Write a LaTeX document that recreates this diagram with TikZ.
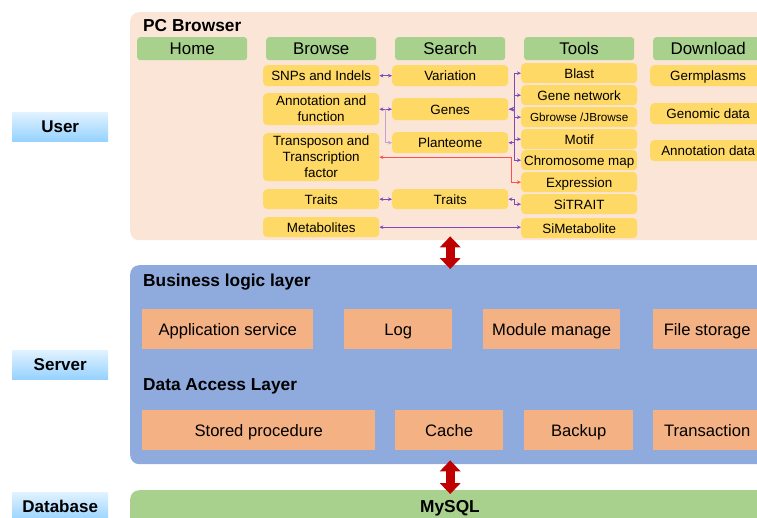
\documentclass[tikz,border=0pt]{standalone}
\usepackage{fontspec}
\setmainfont{Liberation Sans}
\usepackage{tikz}
\usetikzlibrary{arrows.meta}
\definecolor{peach}{RGB}{251,229,214}
\definecolor{headgreen}{RGB}{169,209,142}
\definecolor{itemyellow}{RGB}{255,217,102}
\definecolor{layerblue}{RGB}{143,170,220}
\definecolor{svcorange}{RGB}{244,177,131}
\definecolor{arrowred}{RGB}{192,0,0}
\definecolor{linkpurple}{RGB}{128,72,184}
\definecolor{linklight}{RGB}{196,160,216}
\definecolor{redlink}{RGB}{250,80,80}
\definecolor{sidetop}{RGB}{225,242,255}
\definecolor{sidebottom}{RGB}{150,210,255}

\begin{document}
\begin{tikzpicture}[x=1pt,y=-1pt,
  >={Stealth[length=4pt,width=3.6pt]},
  box/.style={anchor=north west,inner sep=0pt,align=center},
  caps/.style={text height=#1,text depth=0pt},
  panel/.style={box,rounded corners=9pt},
  head/.style={box,caps=12.2pt,fill=headgreen,rounded corners=3pt,minimum width=110pt,minimum height=23pt,font=\fontsize{16.9}{18}\selectfont},
  item/.style={box,fill=itemyellow,rounded corners=4pt,minimum width=116pt,font=\fontsize{13.4}{16}\selectfont},
  cell/.style={item,caps=9.6pt},
  svc/.style={box,caps=12pt,fill=svcorange,minimum height=40pt,font=\fontsize{16.6}{18}\selectfont},
  side/.style={box,caps=12.3pt,minimum width=96pt,minimum height=29pt,top color=sidetop,bottom color=sidebottom,font=\bfseries\fontsize{17}{18}\selectfont},
  title/.style={anchor=west,caps=12.4pt,inner sep=0pt,font=\bfseries\fontsize{17.3}{18}\selectfont},
  link/.style={draw=linkpurple,line width=0.7pt},
  lightlink/.style={draw=linklight,line width=0.9pt},
  rlink/.style={draw=redlink,line width=0.7pt},
  bigarrow/.style={draw=arrowred,line width=9pt,shorten <=-4pt,shorten >=-4pt,
    {Triangle[length=11pt,width=21pt,line width=0pt]}-{Triangle[length=11pt,width=21pt,line width=0pt]}}]
\useasboundingbox (0,0) rectangle (757,517);
\clip (0,0) rectangle (757,517);

% side labels
\node[side] (user) at (12,112) {User};
\node[side] (serverlab) at (12,350) {Server};
\node[side] (dblab) at (12,492) {Database};

% user layer
\node[panel,fill=peach,minimum width=660pt,minimum height=228pt] (browser) at (130,12) {};
\node[title] (pctitle) at (143,25) {PC Browser};
\node[head] (home) at (137,37) {Home};
\node[head] (browse) at (266,37) {Browse};
\node[head] (search) at (395,37) {Search};
\node[head] (tools) at (524,37) {Tools};
\node[head] (download) at (653,37) {Download};

\node[cell,minimum height=21pt] (snp) at (263,65) {SNPs and Indels};
\node[item,minimum height=32pt] (annot) at (263,93) {Annotation and\\function};
\node[item,minimum height=48pt] (transp) at (263,133) {Transposon and\\Transcription\\factor};
\node[cell,minimum height=20pt] (traitsb) at (263,189) {Traits};
\node[cell,minimum height=20pt] (metab) at (263,217) {Metabolites};

\node[cell,minimum height=21pt] (var) at (392,65) {Variation};
\node[cell,minimum height=22pt] (genes) at (392,98) {Genes};
\node[cell,minimum height=21pt] (plant) at (392,132) {Planteome};
\node[cell,minimum height=20pt] (traitss) at (392,189) {Traits};

\node[cell,minimum height=20pt] (blast) at (521,63) {Blast};
\node[cell,minimum height=20pt] (gnet) at (521,85) {Gene network};
\node[cell,minimum height=20pt,caps=8.4pt,font=\fontsize{11.7}{13}\selectfont] (gbrowse) at (521,107) {Gbrowse /JBrowse};
\node[cell,minimum height=20pt] (motif) at (521,129) {Motif};
\node[cell,minimum height=20pt] (chrom) at (521,150) {Chromosome map};
\node[cell,minimum height=20pt] (expr) at (521,172) {Expression};
\node[cell,minimum height=20pt] (sitrait) at (521,194) {SiTRAIT};
\node[cell,minimum height=20pt] (simetab) at (521,218) {SiMetabolite};

\node[cell,minimum height=21pt] (germ) at (650,65) {Germplasms};
\node[cell,minimum height=21pt] (genomic) at (650,103) {Genomic data};
\node[cell,minimum height=21pt] (annotdata) at (650,140) {Annotation data};

\draw[link,<->] (snp.east) -- (var.west);
\draw[link,<->] (annot.east) -- (genes.west);
\draw[lightlink,->] ([xshift=6pt]annot.east) |- (plant.west);
\draw[rlink,<->] (transp.east) -| ([xshift=-10pt]expr.west) -- (expr.west);
\draw[link,{Stealth[length=6pt,width=5pt]}-] (genes.east) -- ++(6,0);
\foreach \t in {blast,gnet,gbrowse,motif,chrom}
  \draw[link,->] ([xshift=6pt]genes.east) |- (\t.west);
\draw[link,->] ([xshift=6pt]genes.east) |- (plant.east);
\draw[link,<->] (traitsb.east) -- (traitss.west);
\draw[link,<->] (traitss.east) -| ([xshift=-7pt]sitrait.west) -- (sitrait.west);
\draw[link,<->] (metab.east) -- (metab.east -| simetab.west);

% server layer
\node[panel,fill=layerblue,minimum width=660pt,minimum height=199pt] (server) at (130,265) {};
\node[title] (bltitle) at (143,280) {Business logic layer};
\node[svc,minimum width=171pt] (appsvc) at (142,309) {Application service};
\node[svc,minimum width=108pt] (log) at (344,309) {Log};
\node[svc,minimum width=137pt] (module) at (483,309) {Module manage};
\node[svc,minimum width=108pt] (files) at (653,309) {File storage};
\node[title] (datitle) at (143,384) {Data Access Layer};
\node[svc,minimum width=233pt] (stored) at (142,410) {Stored procedure};
\node[svc,minimum width=108pt] (cache) at (395,410) {Cache};
\node[svc,minimum width=109pt] (backup) at (524,410) {Backup};
\node[svc,minimum width=108pt] (trans) at (653,410) {Transaction};

% database
\node[panel,fill=headgreen,minimum width=660pt,minimum height=40pt] (mysql) at (130,490) {};
\node[caps=12.4pt,anchor=center,inner sep=0pt,font=\bfseries\fontsize{17.3}{18}\selectfont] (mysqltext) at (450,506) {MySQL};

\draw[bigarrow] (search.center |- browser.south) -- (search.center |- server.north);
\draw[bigarrow] (search.center |- server.south) -- (search.center |- mysql.north);
\end{tikzpicture}
\end{document}
